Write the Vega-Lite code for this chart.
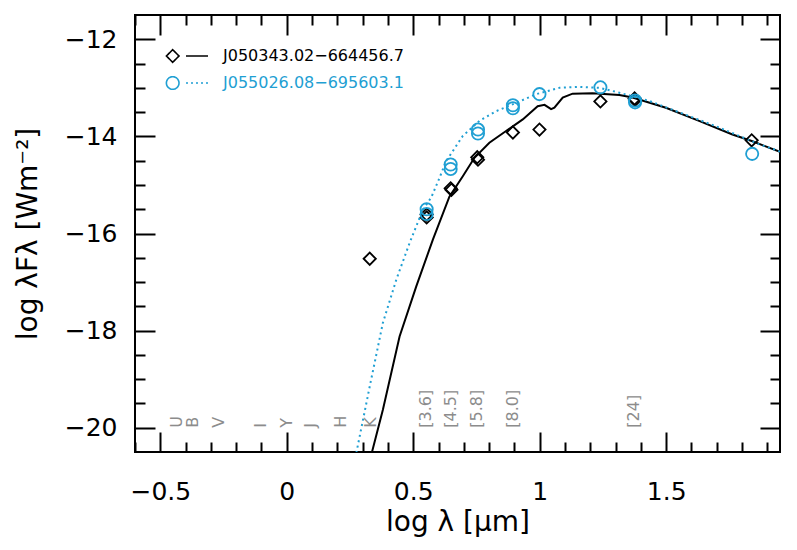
{
  "$schema": "https://vega.github.io/schema/vega-lite/v6.json",
  "width": 645,
  "height": 437,
  "autosize": {"type": "none"},
  "padding": {"left": 135, "top": 15, "right": 17, "bottom": 98},
  "background": "white",
  "config": {
    "view": {"stroke": "black", "strokeWidth": 2},
    "font": "DejaVu Sans",
    "axis": {
      "domain": false,
      "grid": false,
      "tickColor": "black",
      "tickWidth": 2,
      "labelFont": "DejaVu Sans",
      "labelFontSize": 25,
      "labelColor": "black",
      "titleFont": "DejaVu Sans",
      "titleFontSize": 28,
      "titleColor": "black",
      "titleFontWeight": "normal",
      "labelFlush": false,
      "labelOverlap": false
    }
  },
  "datasets": {
    "phot": [
      {"name": "J050343.02−664456.7", "x": 0.328, "y": -16.52},
      {"name": "J050343.02−664456.7", "x": 0.553, "y": -15.61},
      {"name": "J050343.02−664456.7", "x": 0.553, "y": -15.67},
      {"name": "J050343.02−664456.7", "x": 0.648, "y": -15.07},
      {"name": "J050343.02−664456.7", "x": 0.651, "y": -15.1},
      {"name": "J050343.02−664456.7", "x": 0.753, "y": -14.43},
      {"name": "J050343.02−664456.7", "x": 0.756, "y": -14.48},
      {"name": "J050343.02−664456.7", "x": 0.894, "y": -13.92},
      {"name": "J050343.02−664456.7", "x": 0.999, "y": -13.86},
      {"name": "J050343.02−664456.7", "x": 1.24, "y": -13.28},
      {"name": "J050343.02−664456.7", "x": 1.375, "y": -13.22},
      {"name": "J050343.02−664456.7", "x": 1.377, "y": -13.25},
      {"name": "J050343.02−664456.7", "x": 1.838, "y": -14.08},
      {"name": "J055026.08−695603.1", "x": 0.553, "y": -15.5},
      {"name": "J055026.08−695603.1", "x": 0.553, "y": -15.6},
      {"name": "J055026.08−695603.1", "x": 0.648, "y": -14.58},
      {"name": "J055026.08−695603.1", "x": 0.648, "y": -14.67},
      {"name": "J055026.08−695603.1", "x": 0.756, "y": -13.86},
      {"name": "J055026.08−695603.1", "x": 0.756, "y": -13.94},
      {"name": "J055026.08−695603.1", "x": 0.894, "y": -13.36},
      {"name": "J055026.08−695603.1", "x": 0.894, "y": -13.42},
      {"name": "J055026.08−695603.1", "x": 0.999, "y": -13.13},
      {"name": "J055026.08−695603.1", "x": 1.24, "y": -12.99},
      {"name": "J055026.08−695603.1", "x": 1.377, "y": -13.26},
      {"name": "J055026.08−695603.1", "x": 1.377, "y": -13.3},
      {"name": "J055026.08−695603.1", "x": 1.84, "y": -14.36}
    ],
    "model": [
      {"name": "J050343.02−664456.7", "x": 0.337, "y": -20.5},
      {"name": "J050343.02−664456.7", "x": 0.38, "y": -19.63},
      {"name": "J050343.02−664456.7", "x": 0.446, "y": -18.12},
      {"name": "J050343.02−664456.7", "x": 0.512, "y": -17.09},
      {"name": "J050343.02−664456.7", "x": 0.578, "y": -16.12},
      {"name": "J050343.02−664456.7", "x": 0.643, "y": -15.24},
      {"name": "J050343.02−664456.7", "x": 0.696, "y": -14.82},
      {"name": "J050343.02−664456.7", "x": 0.742, "y": -14.44},
      {"name": "J050343.02−664456.7", "x": 0.801, "y": -14.13},
      {"name": "J050343.02−664456.7", "x": 0.867, "y": -13.89},
      {"name": "J050343.02−664456.7", "x": 0.933, "y": -13.65},
      {"name": "J050343.02−664456.7", "x": 0.992, "y": -13.38},
      {"name": "J050343.02−664456.7", "x": 1.019, "y": -13.35},
      {"name": "J050343.02−664456.7", "x": 1.045, "y": -13.44},
      {"name": "J050343.02−664456.7", "x": 1.058, "y": -13.41},
      {"name": "J050343.02−664456.7", "x": 1.091, "y": -13.2},
      {"name": "J050343.02−664456.7", "x": 1.13, "y": -13.12},
      {"name": "J050343.02−664456.7", "x": 1.209, "y": -13.11},
      {"name": "J050343.02−664456.7", "x": 1.315, "y": -13.15},
      {"name": "J050343.02−664456.7", "x": 1.367, "y": -13.2},
      {"name": "J050343.02−664456.7", "x": 1.499, "y": -13.41},
      {"name": "J050343.02−664456.7", "x": 1.63, "y": -13.68},
      {"name": "J050343.02−664456.7", "x": 1.762, "y": -13.96},
      {"name": "J050343.02−664456.7", "x": 1.841, "y": -14.1},
      {"name": "J050343.02−664456.7", "x": 1.95, "y": -14.32},
      {"name": "J055026.08−695603.1", "x": 0.275, "y": -20.52},
      {"name": "J055026.08−695603.1", "x": 0.328, "y": -19.15},
      {"name": "J055026.08−695603.1", "x": 0.38, "y": -17.84},
      {"name": "J055026.08−695603.1", "x": 0.433, "y": -16.95},
      {"name": "J055026.08−695603.1", "x": 0.486, "y": -16.19},
      {"name": "J055026.08−695603.1", "x": 0.538, "y": -15.51},
      {"name": "J055026.08−695603.1", "x": 0.571, "y": -15.26},
      {"name": "J055026.08−695603.1", "x": 0.601, "y": -14.89},
      {"name": "J055026.08−695603.1", "x": 0.63, "y": -14.51},
      {"name": "J055026.08−695603.1", "x": 0.696, "y": -13.99},
      {"name": "J055026.08−695603.1", "x": 0.762, "y": -13.68},
      {"name": "J055026.08−695603.1", "x": 0.828, "y": -13.48},
      {"name": "J055026.08−695603.1", "x": 0.907, "y": -13.31},
      {"name": "J055026.08−695603.1", "x": 0.986, "y": -13.13},
      {"name": "J055026.08−695603.1", "x": 1.078, "y": -13.0},
      {"name": "J055026.08−695603.1", "x": 1.157, "y": -12.98},
      {"name": "J055026.08−695603.1", "x": 1.236, "y": -13.0},
      {"name": "J055026.08−695603.1", "x": 1.315, "y": -13.1},
      {"name": "J055026.08−695603.1", "x": 1.433, "y": -13.27},
      {"name": "J055026.08−695603.1", "x": 1.696, "y": -13.79},
      {"name": "J055026.08−695603.1", "x": 1.867, "y": -14.16},
      {"name": "J055026.08−695603.1", "x": 1.95, "y": -14.31}
    ],
    "bands": [
      {"band": "U", "x": -0.435},
      {"band": "B", "x": -0.37},
      {"band": "V", "x": -0.267},
      {"band": "I", "x": -0.1},
      {"band": "Y", "x": 0.0},
      {"band": "J", "x": 0.097},
      {"band": "H", "x": 0.216},
      {"band": "K", "x": 0.334},
      {"band": "[3.6]", "x": 0.551},
      {"band": "[4.5]", "x": 0.65},
      {"band": "[5.8]", "x": 0.753},
      {"band": "[8.0]", "x": 0.894},
      {"band": "[24]", "x": 1.374}
    ]
  },
  "layer": [
    {
      "data": {"name": "model"},
      "transform": [{"filter": "indexof(datum.name, 'J050343') == 0"}],
      "mark": {"type": "line", "strokeWidth": 2, "clip": true},
      "encoding": {
        "x": {"field": "x", "type": "quantitative",
          "scale": {"domain": [-0.6, 1.95], "nice": false, "zero": false},
          "axis": {"orient": "bottom", "values": [-0.5, 0, 0.5, 1, 1.5], "tickSize": -20, "labelPadding": 47, "labelBaseline": "top", "format": ".1~f",
            "title": "log λ [μm]", "titleY": 78, "titleBaseline": "alphabetic"}},
        "y": {"field": "y", "type": "quantitative",
          "scale": {"domain": [-20.5, -11.5], "nice": false, "zero": false},
          "axis": {"orient": "left", "values": [-20, -18, -16, -14, -12], "tickSize": -20, "labelPadding": 38, "format": "d",
            "title": "log λFλ [Wm⁻²]", "titleX": -107, "titleY": 218.5, "titleAngle": 270, "titleAlign": "center", "titleBaseline": "middle"}},
        "color": {"field": "name", "type": "nominal",
          "scale": {"domain": ["J050343.02−664456.7", "J055026.08−695603.1"], "range": ["#000000", "#1f9fd3"]},
          "legend": {
            "orient": "none", "legendX": 41, "legendY": 30, "title": null, "padding": 0,
            "symbolSize": 400, "symbolStrokeWidth": 1.6, "rowPadding": 6, "labelOffset": 25, "labelLimit": 400,
            "labelFont": "DejaVu Sans", "labelFontSize": 16,
            "symbolType": "M-2.06,0L-1.43,-0.63L-0.8,0L-1.43,0.63Z M-0.1,0L2.1,0",
            "encode": {
              "symbols": {"update": {
                "shape": {"signal": "datum.index === 0 ? 'M-2.06,0L-1.43,-0.63L-0.8,0L-1.43,0.63Z M-0.1,0L2.1,0' : 'M-0.8,0A0.63,0.63 0 1 1 -2.06,0A0.63,0.63 0 1 1 -0.8,0Z M-0.1,0L0.1,0M0.4,0L0.6,0M0.9,0L1.1,0M1.4,0L1.6,0M1.9,0L2.1,0'"},
                "fill": {"value": "transparent"},
                "stroke": {"signal": "scale('color', datum.value)"},
                "strokeDash": {"value": [1, 0]}
              }},
              "labels": {"update": {"fill": {"signal": "scale('color', datum.value)"}}}
            }
          }}
      }
    },
    {
      "data": {"name": "model"},
      "transform": [{"filter": "indexof(datum.name, 'J055026') == 0"}],
      "mark": {"type": "line", "strokeWidth": 2, "strokeDash": [2, 3.5], "clip": true},
      "encoding": {
        "x": {"field": "x", "type": "quantitative",
          "scale": {"domain": [-0.6, 1.95], "nice": false, "zero": false},
          "axis": {"orient": "bottom", "values": [-0.6, -0.4, -0.3, -0.2, -0.1, 0.1, 0.2, 0.3, 0.4, 0.6, 0.7, 0.8, 0.9, 1.1, 1.2, 1.3, 1.4, 1.6, 1.7, 1.8, 1.9], "tickSize": -10, "labels": false, "title": null}},
        "y": {"field": "y", "type": "quantitative",
          "scale": {"domain": [-20.5, -11.5], "nice": false, "zero": false},
          "axis": {"orient": "left", "values": [-19.5, -19, -18.5, -17.5, -17, -16.5, -15.5, -15, -14.5, -13.5, -13, -12.5], "tickSize": -10, "labels": false, "title": null}},
        "color": {"field": "name", "type": "nominal"}
      }
    },
    {
      "data": {"name": "phot"},
      "transform": [{"filter": "indexof(datum.name, 'J050343') == 0"}],
      "mark": {"type": "point", "shape": "diamond", "filled": false, "strokeWidth": 1.8, "size": 150, "opacity": 1},
      "encoding": {
        "x": {"field": "x", "type": "quantitative",
          "scale": {"domain": [-0.6, 1.95], "nice": false, "zero": false},
          "axis": {"orient": "top", "values": [-0.5, 0, 0.5, 1, 1.5], "tickSize": -20, "labels": false, "title": null}},
        "y": {"field": "y", "type": "quantitative",
          "scale": {"domain": [-20.5, -11.5], "nice": false, "zero": false},
          "axis": {"orient": "right", "values": [-20, -18, -16, -14, -12], "tickSize": -20, "labels": false, "title": null}},
        "color": {"field": "name", "type": "nominal"}
      }
    },
    {
      "data": {"name": "phot"},
      "transform": [{"filter": "indexof(datum.name, 'J055026') == 0"}],
      "mark": {"type": "point", "shape": "circle", "filled": false, "strokeWidth": 1.8, "size": 150, "opacity": 1},
      "encoding": {
        "x": {"field": "x", "type": "quantitative",
          "scale": {"domain": [-0.6, 1.95], "nice": false, "zero": false}, "axis": null},
        "y": {"field": "y", "type": "quantitative",
          "scale": {"domain": [-20.5, -11.5], "nice": false, "zero": false}, "axis": null},
        "color": {"field": "name", "type": "nominal"}
      }
    },
    {
      "data": {"name": "bands"},
      "mark": {"type": "text", "angle": 270, "align": "left", "baseline": "middle", "fontSize": 16, "font": "DejaVu Sans", "color": "#8c8c8c"},
      "encoding": {
        "x": {"field": "x", "type": "quantitative",
          "scale": {"domain": [-0.6, 1.95], "nice": false, "zero": false},
          "axis": {"orient": "top", "values": [-0.6, -0.4, -0.3, -0.2, -0.1, 0.1, 0.2, 0.3, 0.4, 0.6, 0.7, 0.8, 0.9, 1.1, 1.2, 1.3, 1.4, 1.6, 1.7, 1.8, 1.9], "tickSize": -10, "labels": false, "title": null}},
        "y": {"datum": -20, "type": "quantitative",
          "scale": {"domain": [-20.5, -11.5], "nice": false, "zero": false},
          "axis": {"orient": "right", "values": [-19.5, -19, -18.5, -17.5, -17, -16.5, -15.5, -15, -14.5, -13.5, -13, -12.5], "tickSize": -10, "labels": false, "title": null}},
        "text": {"field": "band"}
      }
    }
  ],
  "resolve": {"axis": {"x": "independent", "y": "independent"}}
}
